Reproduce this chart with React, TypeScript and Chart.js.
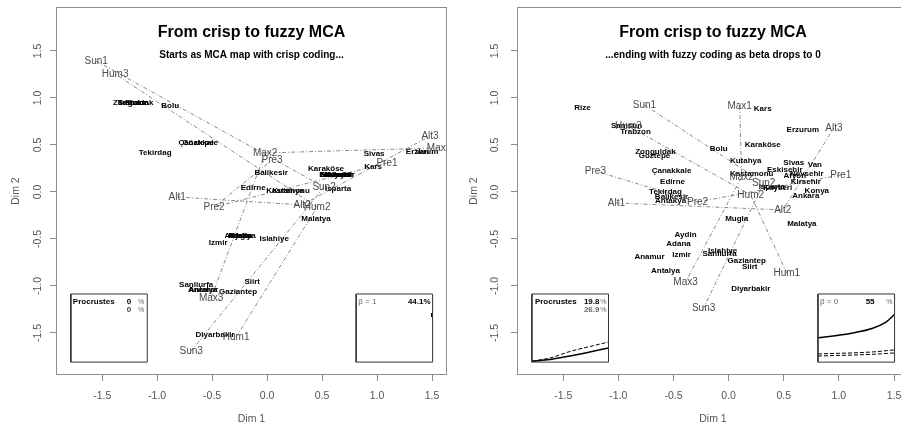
import React, { useEffect, useRef } from "react";
import { Chart, registerables } from "chart.js";
Chart.register(...registerables);

const FONT = '"Liberation Sans", Arial, Helvetica, sans-serif';

// ---- shared ----
const variables = ["Sun", "Hum", "Max", "Alt", "Pre"];
const levels = [1, 2, 3];
const categoryNames = variables.flatMap((v) => levels.map((l) => v + l));
const xTickValues = [-1.5, -1.0, -0.5, 0, 0.5, 1.0, 1.5];
const xRange = [-1.92, 1.636];
const yRange = [-1.947, 1.968];

// inset boxes (data coordinates)
const insetBoxAX = [-1.785, -1.09];
const insetBoxBX = [0.81, 1.505];
const insetBoxY = [-1.81, -1.085];

// ---- crisp panel (beta = 1) ----
const crispCatX = [-1.555, 0.518, -0.691, -0.282, 0.455, -1.382, 1.564, -0.018, -0.509, -0.818, 0.318, 1.482, 1.09, -0.482, 0.045];
const crispCatY = [1.394, 0.053, -1.691, -1.543, -0.16, 1.255, 0.47, 0.415, -1.128, -0.053, -0.138, 0.596, 0.309, -0.16, 0.34];
const crispStationNames = [
  "Zonguldak", "Rize", "Trabzon", "Samsun", "Bolu", "Çanakkale", "Göztepe", "Tekirdag",
  "Balikesir", "Edirne", "Kastamonu", "Kutahya", "Isparta", "Karaköse",
  "Ankara", "Konya", "Kirsehir", "Eskisehir", "Nevsehir", "Afyon",
  "Sivas", "Kars", "Erzurum", "Van", "Malatya", "Adana", "Aydin", "Antakya", "Mugla",
  "Izmir", "Islahiye", "Siirt", "Sanliurfa", "Anamur", "Antalya", "Gaziantep", "Diyarbakir",
];
const crispStationX = [
  -1.218, -1.218, -1.218, -1.218, -0.882, -0.627, -0.627, -1.018,
  0.036, -0.127, 0.191, 0.191, 0.645, 0.536,
  0.636, 0.636, 0.636, 0.636, 0.636, 0.636,
  0.973, 0.964, 1.409, 1.409, 0.445, -0.245, -0.245, -0.245, -0.245,
  -0.445, 0.064, -0.136, -0.645, -0.582, -0.582, -0.264, -0.473,
];
const crispStationY = [
  0.947, 0.947, 0.947, 0.947, 0.915, 0.521, 0.521, 0.415,
  0.202, 0.043, 0.011, 0.011, 0.032, 0.245,
  0.181, 0.181, 0.181, 0.181, 0.181, 0.181,
  0.404, 0.266, 0.426, 0.426, -0.287, -0.468, -0.468, -0.468, -0.468,
  -0.543, -0.5, -0.957, -0.989, -1.043, -1.043, -1.064, -1.521,
];
const crispProcrustes = ["0", "0"];
const crispInertia = "44.1%";
const crispMarkX = [1.497, 1.497];
const crispMarkY = [-1.29, -1.33];

// ---- fuzzy panel (beta = 0) ----
const fuzzyCatX = [-0.764, 0.318, -0.227, 0.527, 0.2, -0.909, 0.1, 0.118, -0.391, -1.018, 0.491, 0.955, 1.018, -0.282, -1.209];
const fuzzyCatY = [0.926, 0.096, -1.234, -0.862, -0.032, 0.702, 0.915, 0.16, -0.957, -0.117, -0.191, 0.681, 0.181, -0.106, 0.223];
const fuzzyStationNames = [
  "Rize", "Kars", "Samsun", "Trabzon", "Erzurum", "Karaköse", "Bolu", "Zonguldak", "Göztepe",
  "Kutahya", "Sivas", "Van", "Eskisehir", "Afyon", "Nevsehir", "Kirsehir", "Kastamonu",
  "Isparta", "Kayseri", "Konya", "Ankara", "Çanakkale", "Edirne", "Tekirdag", "Balikesir",
  "Antakya", "Mugla", "Malatya", "Aydin", "Adana", "Anamur", "Izmir", "Islahiye", "Sanliurfa",
  "Gaziantep", "Siirt", "Antalya", "Diyarbakir",
];
const fuzzyStationX = [
  -1.327, 0.309, -0.927, -0.845, 0.673, 0.309, -0.09, -0.664, -0.673,
  0.155, 0.591, 0.782, 0.509, 0.6, 0.709, 0.7, 0.209,
  0.391, 0.445, 0.8, 0.7, -0.518, -0.509, -0.573, -0.518,
  -0.527, 0.073, 0.664, -0.391, -0.455, -0.718, -0.427, -0.055, -0.082,
  0.164, 0.191, -0.573, 0.2,
];
const fuzzyStationY = [
  0.894, 0.883, 0.702, 0.638, 0.66, 0.5, 0.457, 0.426, 0.383,
  0.33, 0.309, 0.287, 0.234, 0.17, 0.191, 0.106, 0.191,
  0.053, 0.043, 0.011, -0.043, 0.223, 0.106, 0.0, -0.053,
  -0.096, -0.287, -0.34, -0.457, -0.553, -0.691, -0.67, -0.628, -0.66,
  -0.734, -0.798, -0.84, -1.032,
];
const fuzzyProcrustes = ["19.8", "26.9"];
const fuzzyInertia = "55";
// Procrustes curves (left inset)
const procCurveX = [-1.785, -1.62, -1.44, -1.26, -1.09];
const procSolidY = [-1.8, -1.782, -1.745, -1.702, -1.66];
const procDashY = [-1.8, -1.766, -1.697, -1.644, -1.596];
// inertia curves (right inset)
const inertiaCurveX = [0.81, 0.98, 1.15, 1.3, 1.42, 1.505];
const inertiaSolidY = [-1.55, -1.527, -1.495, -1.452, -1.39, -1.3];
const inertiaDashX = [0.81, 1.3, 1.505];
const inertiaDashAY = [-1.723, -1.702, -1.68];
const inertiaDashBY = [-1.745, -1.727, -1.712];

const pts = (xs: number[], ys: number[]) => xs.map((x, i) => ({ x, y: ys[i] }));

function baseDatasets(catX: number[], catY: number[]) {
  const ds: any[] = [];
  variables.forEach((v, k) => {
    ds.push({
      data: levels.map((_, i) => ({ x: catX[k * 3 + i], y: catY[k * 3 + i] })),
      showLine: true,
      borderColor: "#8a8a8a",
      borderWidth: 1,
      borderDash: [4, 2, 1, 2],
      pointRadius: 0,
    });
  });
  const rect = (bx: number[]) =>
    pts([bx[0], bx[1], bx[1], bx[0], bx[0]], [insetBoxY[0], insetBoxY[0], insetBoxY[1], insetBoxY[1], insetBoxY[0]]);
  [insetBoxAX, insetBoxBX].forEach((bx) =>
    ds.push({ data: rect(bx), showLine: true, borderColor: "#333", borderWidth: 1, pointRadius: 0, tension: 0 })
  );
  return ds;
}

function labelDatasets(stX: number[], stY: number[], stNames: string[], catX: number[], catY: number[]) {
  return [
    { data: pts(stX, stY), pointRadius: 0, labelTexts: stNames, labelKind: "station" },
    { data: pts(catX, catY), pointRadius: 0, labelTexts: categoryNames, labelKind: "cat" },
  ];
}

const labelPlugin = {
  id: "pointLabels",
  afterDatasetsDraw(chart: any) {
    const { ctx, chartArea } = chart;
    ctx.save();
    ctx.beginPath();
    ctx.rect(chartArea.left, chartArea.top, chartArea.right - chartArea.left, chartArea.bottom - chartArea.top);
    ctx.clip();
    ctx.textAlign = "center";
    ctx.textBaseline = "middle";
    chart.data.datasets.forEach((ds: any, i: number) => {
      if (!ds.labelTexts) return;
      const meta = chart.getDatasetMeta(i);
      if (ds.labelKind === "cat") {
        ctx.font = `10px ${FONT}`;
        ctx.fillStyle = "#4a4a4a";
      } else {
        ctx.font = `bold 8px ${FONT}`;
        ctx.fillStyle = "#000";
      }
      meta.data.forEach((el: any, j: number) => ctx.fillText(ds.labelTexts[j], el.x, el.y));
    });
    ctx.restore();
  },
};

const framePlugin = {
  id: "frame",
  afterDraw(chart: any, _args: any, opts: any) {
    const { ctx, chartArea, scales } = chart;
    ctx.save();
    ctx.strokeStyle = "#8c8c8c";
    ctx.lineWidth = 1;
    ctx.strokeRect(chartArea.left + 0.5, chartArea.top + 0.5, chartArea.right - chartArea.left - 1, chartArea.bottom - chartArea.top - 1);
    // titles
    const cx = (chartArea.left + chartArea.right) / 2;
    ctx.fillStyle = "#000";
    ctx.textAlign = "center";
    ctx.textBaseline = "middle";
    ctx.font = `bold 16px ${FONT}`;
    ctx.fillText(opts.title, cx, chartArea.top + 26);
    ctx.font = `bold 10px ${FONT}`;
    ctx.fillText(opts.subtitle, cx, chartArea.top + 48);
    // y tick labels rotated (R style)
    const ys = scales.y;
    ctx.font = `10.5px ${FONT}`;
    ctx.fillStyle = "#555";
    ys.ticks.forEach((t: any) => {
      const py = ys.getPixelForValue(t.value);
      ctx.save();
      ctx.translate(chartArea.left - opts.yLabelOffset, py);
      ctx.rotate(-Math.PI / 2);
      ctx.fillText(t.value.toFixed(1), 0, 0);
      ctx.restore();
    });
    // inset texts
    const xs = scales.x;
    const boxes = [insetBoxAX, insetBoxBX];
    const top = ys.getPixelForValue(insetBoxY[1]);
    opts.insetTexts.forEach((t: any) => {
      const bx = boxes[t.box];
      const px = t.align === "left" ? xs.getPixelForValue(bx[0]) + t.dx : xs.getPixelForValue(bx[1]) + t.dx;
      ctx.textAlign = t.align;
      ctx.font = `${t.bold ? "bold " : ""}${t.size}px ${FONT}`;
      ctx.fillStyle = t.color;
      ctx.fillText(t.text, px, top + t.dy);
    });
    ctx.restore();
  },
};

function makeChart(canvas: HTMLCanvasElement, datasets: any[], yAxisWidth: number, yTitlePad: number, opts: any) {
  return new Chart(canvas, {
    type: "scatter",
    data: { datasets },
    plugins: [labelPlugin, framePlugin],
    options: {
      animation: false,
      responsive: false,
      maintainAspectRatio: false,
      layout: { padding: { top: 7, right: 3, left: 0, bottom: 0 } },
      plugins: { legend: { display: false }, tooltip: { enabled: false }, frame: opts } as any,
      scales: {
        x: {
          type: "linear",
          min: xRange[0],
          max: xRange[1],
          afterFit: (s: any) => {
            s.height = 50;
          },
          afterBuildTicks: (s: any) => {
            s.ticks = xTickValues.map((v) => ({ value: v }));
          },
          ticks: { callback: (v: any) => Number(v).toFixed(1), font: { family: FONT, size: 10.5 }, color: "#555", padding: 9, maxRotation: 0, autoSkip: false },
          grid: { drawOnChartArea: false, drawTicks: true, tickLength: 6, color: "#8c8c8c" },
          border: { display: false },
          title: { display: true, text: "Dim 1", color: "#555", font: { family: FONT, size: 10.5 }, padding: { top: 0, bottom: 0 } },
        },
        y: {
          type: "linear",
          min: yRange[0],
          max: yRange[1],
          afterFit: (s: any) => {
            s.width = yAxisWidth;
          },
          afterBuildTicks: (s: any) => {
            s.ticks = xTickValues.map((v) => ({ value: v }));
          },
          ticks: { display: false },
          grid: { drawOnChartArea: false, drawTicks: true, tickLength: 6, color: "#8c8c8c" },
          border: { display: false },
          title: { display: true, text: "Dim 2", color: "#555", font: { family: FONT, size: 10.5 }, padding: { top: yTitlePad, bottom: 0 } },
        },
      },
    } as any,
  });
}

export default function App() {
  const leftRef = useRef<HTMLCanvasElement>(null);
  const rightRef = useRef<HTMLCanvasElement>(null);

  useEffect(() => {
    const leftDs = [
      ...baseDatasets(crispCatX, crispCatY),
      { data: pts(crispMarkX, crispMarkY), showLine: true, borderColor: "#000", borderWidth: 1, pointRadius: 0 },
      ...labelDatasets(crispStationX, crispStationY, crispStationNames, crispCatX, crispCatY),
    ];
    const rightDs = [
      ...baseDatasets(fuzzyCatX, fuzzyCatY),
      { data: pts(procCurveX, procSolidY), showLine: true, borderColor: "#000", borderWidth: 1.5, pointRadius: 0, cubicInterpolationMode: "monotone" },
      { data: pts(procCurveX, procDashY), showLine: true, borderColor: "#000", borderWidth: 1, borderDash: [4, 2], pointRadius: 0, cubicInterpolationMode: "monotone" },
      { data: pts(inertiaCurveX, inertiaSolidY), showLine: true, borderColor: "#000", borderWidth: 1.5, pointRadius: 0, tension: 0.4 },
      { data: pts(inertiaDashX, inertiaDashAY), showLine: true, borderColor: "#000", borderWidth: 1, borderDash: [4, 2], pointRadius: 0, cubicInterpolationMode: "monotone" },
      { data: pts(inertiaDashX, inertiaDashBY), showLine: true, borderColor: "#000", borderWidth: 1, borderDash: [4, 2], pointRadius: 0, cubicInterpolationMode: "monotone" },
      ...labelDatasets(fuzzyStationX, fuzzyStationY, fuzzyStationNames, fuzzyCatX, fuzzyCatY),
    ];
    const leftOpts = {
      title: "From crisp to fuzzy MCA",
      subtitle: "Starts as MCA map with crisp coding...",
      yLabelOffset: 18,
      insetTexts: [
        { box: 0, text: "Procrustes", align: "left", dx: 2, dy: 8, bold: true, size: 8, color: "#000" },
        { box: 0, text: crispProcrustes[0], align: "right", dx: -16, dy: 8, bold: true, size: 8, color: "#000" },
        { box: 0, text: "%", align: "right", dx: -3, dy: 8, bold: false, size: 7, color: "#666" },
        { box: 0, text: crispProcrustes[1], align: "right", dx: -16, dy: 16, bold: true, size: 8, color: "#444" },
        { box: 0, text: "%", align: "right", dx: -3, dy: 16, bold: false, size: 7, color: "#666" },
        { box: 1, text: "β = 1", align: "left", dx: 2, dy: 8, bold: false, size: 8, color: "#666" },
        { box: 1, text: crispInertia, align: "right", dx: -2, dy: 8, bold: true, size: 8, color: "#000" },
      ],
    };
    const rightOpts = {
      title: "From crisp to fuzzy MCA",
      subtitle: "...ending with fuzzy coding as beta drops to 0",
      yLabelOffset: 22,
      insetTexts: [
        { box: 0, text: "Procrustes", align: "left", dx: 3, dy: 8, bold: true, size: 8, color: "#000" },
        { box: 0, text: fuzzyProcrustes[0], align: "right", dx: -9, dy: 8, bold: true, size: 8, color: "#000" },
        { box: 0, text: "%", align: "right", dx: -2, dy: 8, bold: false, size: 7, color: "#666" },
        { box: 0, text: fuzzyProcrustes[1], align: "right", dx: -9, dy: 16, bold: true, size: 8, color: "#666" },
        { box: 0, text: "%", align: "right", dx: -2, dy: 16, bold: false, size: 7, color: "#666" },
        { box: 1, text: "β = 0", align: "left", dx: 2, dy: 8, bold: false, size: 8, color: "#666" },
        { box: 1, text: fuzzyInertia, align: "right", dx: -20, dy: 8, bold: true, size: 8, color: "#000" },
        { box: 1, text: "%", align: "right", dx: -2, dy: 8, bold: false, size: 7, color: "#666" },
      ],
    };
    const c1 = makeChart(leftRef.current!, leftDs, 56, 10, leftOpts);
    const c2 = makeChart(rightRef.current!, rightDs, 67, 18, rightOpts);
    return () => {
      c1.destroy();
      c2.destroy();
    };
  }, []);

  return (
    <div style={{ position: "absolute", left: 0, top: 0, width: 901, height: 425, overflow: "hidden", background: "#fff" }}>
      <canvas ref={leftRef} width={450} height={425} style={{ position: "absolute", left: 0, top: 0, width: 450, height: 425 }} />
      <canvas ref={rightRef} width={462} height={425} style={{ position: "absolute", left: 450, top: 0, width: 462, height: 425 }} />
    </div>
  );
}
